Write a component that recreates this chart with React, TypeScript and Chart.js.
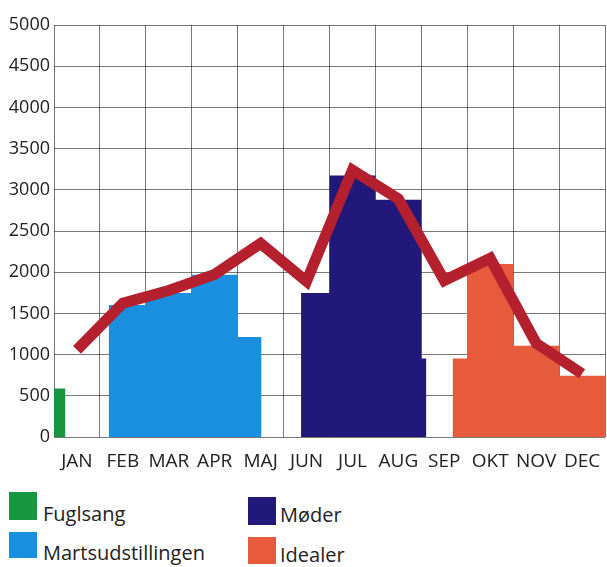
import React, { useEffect, useRef } from 'react';
import { Chart, registerables } from 'chart.js';

Chart.register(...registerables);

const months = ['JAN', 'FEB', 'MAR', 'APR', 'MAJ', 'JUN', 'JUL', 'AUG', 'SEP', 'OKT', 'NOV', 'DEC'];

// Total visitors per month (red line)
const totalVisitors = [1060, 1625, 1780, 1975, 2350, 1890, 3240, 2890, 1900, 2170, 1140, 770];

// Exhibition periods: start positions (in months from 1 Jan), end position and visitors per period
const fuglsangStarts = [0];
const fuglsangEnd = 0.25;
const fuglsangValues = [590];

const martsStarts = [1.19, 2, 3, 4];
const martsEnd = 4.52;
const martsValues = [1605, 1750, 1970, 1215];

const moderStarts = [5.38, 6, 7, 8];
const moderEnd = 8.11;
const moderValues = [1750, 3175, 2880, 955];

const idealerStarts = [8.68, 9, 10, 11];
const idealerEnd = 12;
const idealerValues = [955, 2100, 1110, 745];

const yMin = 0;
const yMax = 5000;
const yStep = 500;

const FONT = "'Open Sans', sans-serif";
const GRID = 'rgba(30,30,30,0.6)';
const TEXT = '#222222';

const COLORS = {
  fuglsang: '#17963f',
  marts: '#1a8fe0',
  moder: '#22187a',
  idealer: '#e85a3c',
  line: '#b5202e',
};

const legendItems = [
  { label: 'Fuglsang', color: COLORS.fuglsang, sx: 9, sy: 492, sw: 28, sh: 28, tx: 43, ty: 504 },
  { label: 'Martsudstillingen', color: COLORS.marts, sx: 9, sy: 532, sw: 28, sh: 26, tx: 43, ty: 543 },
  { label: 'Møder', color: COLORS.moder, sx: 248, sy: 497, sw: 28, sh: 28, tx: 280, ty: 505 },
  { label: 'Idealer', color: COLORS.idealer, sx: 248, sy: 537, sw: 28, sh: 27, tx: 280, ty: 545 },
];

function stepPoints(starts: number[], end: number, values: number[]) {
  const pts = starts.map((x, i) => ({ x, y: values[i] }));
  pts.push({ x: end, y: values[values.length - 1] });
  return pts;
}

function periodDataset(label: string, starts: number[], end: number, values: number[], color: string) {
  return {
    label,
    data: stepPoints(starts, end, values),
    xAxisID: 'x',
    yAxisID: 'y',
    stepped: 'before' as const,
    fill: 'origin',
    backgroundColor: color,
    borderColor: 'rgba(0,0,0,0)',
    borderWidth: 0,
    pointRadius: 0,
    tension: 0,
  };
}

const LINE_INDEX = 4;

const lineOnTop = {
  id: 'lineOnTop',
  beforeDatasetDraw(chart: any, args: any) {
    if (args.index === LINE_INDEX) return false;
    return true;
  },
  afterDraw(chart: any) {
    const meta = chart.getDatasetMeta(LINE_INDEX);
    if (meta && meta.controller) {
      chart.ctx.save();
      meta.controller.draw();
      chart.ctx.restore();
    }
  },
};

export default function App() {
  const canvasRef = useRef<HTMLCanvasElement | null>(null);

  useEffect(() => {
    if (!canvasRef.current) return;
    Chart.defaults.font.family = FONT;
    const chart = new Chart(canvasRef.current, {
      type: 'line',
      data: {
        labels: months,
        datasets: [
          periodDataset('Fuglsang', fuglsangStarts, fuglsangEnd, fuglsangValues, COLORS.fuglsang),
          periodDataset('Martsudstillingen', martsStarts, martsEnd, martsValues, COLORS.marts),
          periodDataset('Møder', moderStarts, moderEnd, moderValues, COLORS.moder),
          periodDataset('Idealer', idealerStarts, idealerEnd, idealerValues, COLORS.idealer),
          {
            label: 'Besøgende i alt',
            data: totalVisitors.map((v, i) => ({ x: i + 0.5, y: v })),
            xAxisID: 'x',
            yAxisID: 'y',
            borderColor: COLORS.line,
            borderWidth: 11,
            borderJoinStyle: 'miter',
            borderCapStyle: 'butt',
            pointRadius: 0,
            fill: false,
            tension: 0,
          } as any,
        ] as any,
      },
      options: {
        animation: false,
        responsive: true,
        maintainAspectRatio: false,
        layout: { padding: { top: 25, right: 2, bottom: 4, left: 0 } },
        plugins: {
          legend: { display: false },
          tooltip: { enabled: false },
        },
        scales: {
          x: {
            type: 'linear',
            position: 'bottom',
            min: 0,
            max: months.length,
            z: 1,
            ticks: { display: false, stepSize: 1 },
            grid: { color: GRID, lineWidth: 1, drawTicks: false },
            border: { display: false },
            afterFit: (s: any) => {
              s.paddingLeft = 0;
              s.paddingRight = 0;
            },
          },
          xc: {
            type: 'category',
            position: 'bottom',
            labels: months,
            offset: true,
            grid: { display: false, drawTicks: false },
            border: { display: false },
            ticks: {
              padding: 13,
              color: TEXT,
              font: { family: FONT, size: 19 },
              maxRotation: 0,
              autoSkip: false,
            },
            afterFit: (s: any) => {
              s.paddingLeft = 0;
              s.paddingRight = 0;
            },
          },
          y: {
            type: 'linear',
            min: yMin,
            max: yMax,
            z: 1,
            ticks: {
              stepSize: yStep,
              padding: 4,
              color: TEXT,
              font: { family: FONT, size: 18 },
              callback: (v: any) => String(v),
            },
            grid: { color: GRID, lineWidth: 1, drawTicks: false },
            border: { display: false },
            afterFit: (s: any) => {
              s.width = 54;
            },
          },
        } as any,
      },
      plugins: [lineOnTop as any],
    });
    return () => chart.destroy();
  }, []);

  return (
    <div style={{ position: 'absolute', left: 0, top: 0, width: 607, height: 567, background: '#fff', overflow: 'hidden' }}>
      <div style={{ position: 'absolute', left: 0, top: 0, width: 607, height: 490 }}>
        <canvas ref={canvasRef} />
      </div>
      {legendItems.map((it) => (
        <React.Fragment key={it.label}>
          <div
            style={{
              position: 'absolute',
              left: it.sx,
              top: it.sy,
              width: it.sw,
              height: it.sh,
              background: it.color,
            }}
          />
          <div
            style={{
              position: 'absolute',
              left: it.tx,
              top: it.ty,
              fontFamily: FONT,
              fontSize: 20,
              lineHeight: '20px',
              color: TEXT,
              whiteSpace: 'nowrap',
            }}
          >
            {it.label}
          </div>
        </React.Fragment>
      ))}
    </div>
  );
}
